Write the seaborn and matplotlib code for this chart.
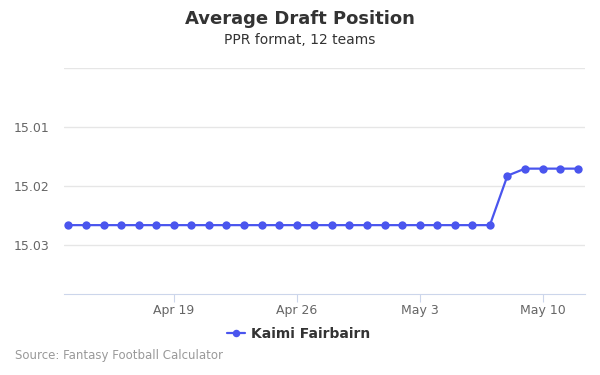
import pandas as pd
import matplotlib
matplotlib.use('Agg')
from matplotlib import pyplot as plt
import matplotlib.dates as mdates
import seaborn as sns

# one pick position per day, Apr 13 -> May 12
dates = pd.date_range('2023-04-13', '2023-05-12', freq='D')
adp = [15.0267] * 25 + [15.0183, 15.0171, 15.0171, 15.0171, 15.0171]
player = 'Kaimi Fairbairn'

df = pd.DataFrame({'Date': dates, 'ADP': adp})

sns.set_style('white')
plt.rcParams['font.family'] = ['DejaVu Sans']

fig = plt.figure(figsize=(6, 3.75), dpi=100)
ax = fig.add_axes([0.1067, 0.216, 0.8683, 0.6027])

line_color = '#4a55ee'
sns.lineplot(x='Date', y='ADP', data=df, ax=ax, color=line_color, marker='o',
             markersize=6, markeredgewidth=0, linewidth=1.6, label=player)

ax.set_ylim(15.0384, 15.0)
ax.set_yticks([15.0, 15.01, 15.02, 15.03])
ax.set_yticklabels(['', '15.01', '15.02', '15.03'])
ax.set_xlim(pd.Timestamp('2023-04-12 18:00'), pd.Timestamp('2023-05-12 10:00'))
ax.set_xticks(pd.to_datetime(['2023-04-19', '2023-04-26', '2023-05-03', '2023-05-10']))
ax.xaxis.set_major_formatter(mdates.DateFormatter('%b %-d'))

ax.grid(axis='y', color='#e6e6e6', linewidth=1)
for s in ['top', 'left', 'right']:
    ax.spines[s].set_visible(False)
ax.spines['bottom'].set_color('#ccd6eb')
ax.tick_params(axis='y', length=0, labelsize=9, labelcolor='#666666', pad=10.5)
ax.tick_params(axis='x', length=6, color='#ccd6eb', labelsize=9, labelcolor='#666666',
               bottom=True, direction='out', pad=1.5)
ax.set_xlabel('')
ax.set_ylabel('')

leg = ax.legend(loc='upper center', bbox_to_anchor=(0.45, -0.09), frameon=False,
                handlelength=1.3, handletextpad=0.4, markerscale=0.9,
                prop={'weight': 'bold', 'size': 10})
for t in leg.get_texts():
    t.set_color('#333333')

fig.text(0.5, 0.948, 'Average Draft Position', ha='center', va='center',
         fontsize=13, fontweight='bold', color='#333333')
fig.text(0.5, 0.892, 'PPR format, 12 teams', ha='center', va='center',
         fontsize=10, color='#333333')
fig.text(0.025, 0.051, 'Source: Fantasy Football Calculator', ha='left', va='center',
         fontsize=8.5, color='#999999')

plt.savefig('out.png', dpi=100)
